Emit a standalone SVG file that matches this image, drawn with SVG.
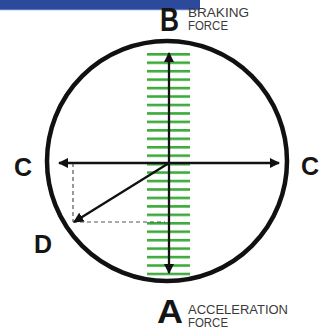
<svg xmlns="http://www.w3.org/2000/svg" width="332" height="331" viewBox="0 0 332 331">
<style>
.big{font-family:"Liberation Sans",Arial,sans-serif;font-weight:bold;fill:#151515}
.small{font-family:"Liberation Sans",Arial,sans-serif;font-size:12.5px;fill:#3a3a3a}
.bar{fill:#3cab3c}
.arr{stroke:#111;stroke-width:2.3;fill:none}
.dash{stroke:#555;stroke-width:1.2;stroke-dasharray:4 3;fill:none}
</style>
<defs>
<marker id="ah" viewBox="0 0 10 10" refX="9" refY="5" markerWidth="4.5" markerHeight="4.5" orient="auto-start-reverse" markerUnits="strokeWidth">
<path d="M0,0 L10,5 L0,10 z" fill="#111"/>
</marker>
<pattern id="bars" x="0" y="53" width="50" height="8.45" patternUnits="userSpaceOnUse">
<rect x="0" y="0" width="50" height="2.6" class="bar"/>
</pattern>
</defs>
<rect width="332" height="331" fill="#fff"/>
<rect x="0" y="0" width="200" height="10" fill="#2b4a9c"/>
<rect x="0" y="9" width="200" height="1.2" fill="#5a76bd"/>
<g id="circle">
<circle cx="167" cy="161" r="120" fill="none" stroke="#111" stroke-width="4.5"/>
</g>
<g id="green-bars">
<rect x="147" y="51.7" width="43" height="224" fill="url(#bars)"/>
</g>
<g id="connectors">
<line class="dash" x1="73" y1="163" x2="73" y2="222"/>
<line class="dash" x1="73" y1="222" x2="165" y2="222"/>
<line class="arr" x1="169" y1="53" x2="169" y2="273" marker-start="url(#ah)" marker-end="url(#ah)"/>
<line class="arr" x1="59" y1="163" x2="279" y2="163" marker-start="url(#ah)" marker-end="url(#ah)"/>
<line class="arr" x1="169" y1="163" x2="74" y2="222" marker-end="url(#ah)"/>
</g>
<g id="label-B">
<text class="big" x="160" y="31" font-size="33" textLength="19" lengthAdjust="spacingAndGlyphs">B</text>
<text class="small" x="188" y="17" textLength="61" lengthAdjust="spacingAndGlyphs">BRAKING</text>
<text class="small" x="188" y="30" textLength="40" lengthAdjust="spacingAndGlyphs">FORCE</text>
</g>
<g id="label-C-left">
<text class="big" x="14" y="176" font-size="25">C</text>
</g>
<g id="label-C-right">
<text class="big" x="301" y="175" font-size="25">C</text>
</g>
<g id="label-D">
<text class="big" x="34" y="253" font-size="25">D</text>
</g>
<g id="label-A">
<text class="big" x="157" y="323" font-size="34" textLength="26" lengthAdjust="spacingAndGlyphs">A</text>
<text class="small" x="188" y="314" textLength="100" lengthAdjust="spacingAndGlyphs">ACCELERATION</text>
<text class="small" x="188" y="327" textLength="40" lengthAdjust="spacingAndGlyphs">FORCE</text>
</g>
</svg>
